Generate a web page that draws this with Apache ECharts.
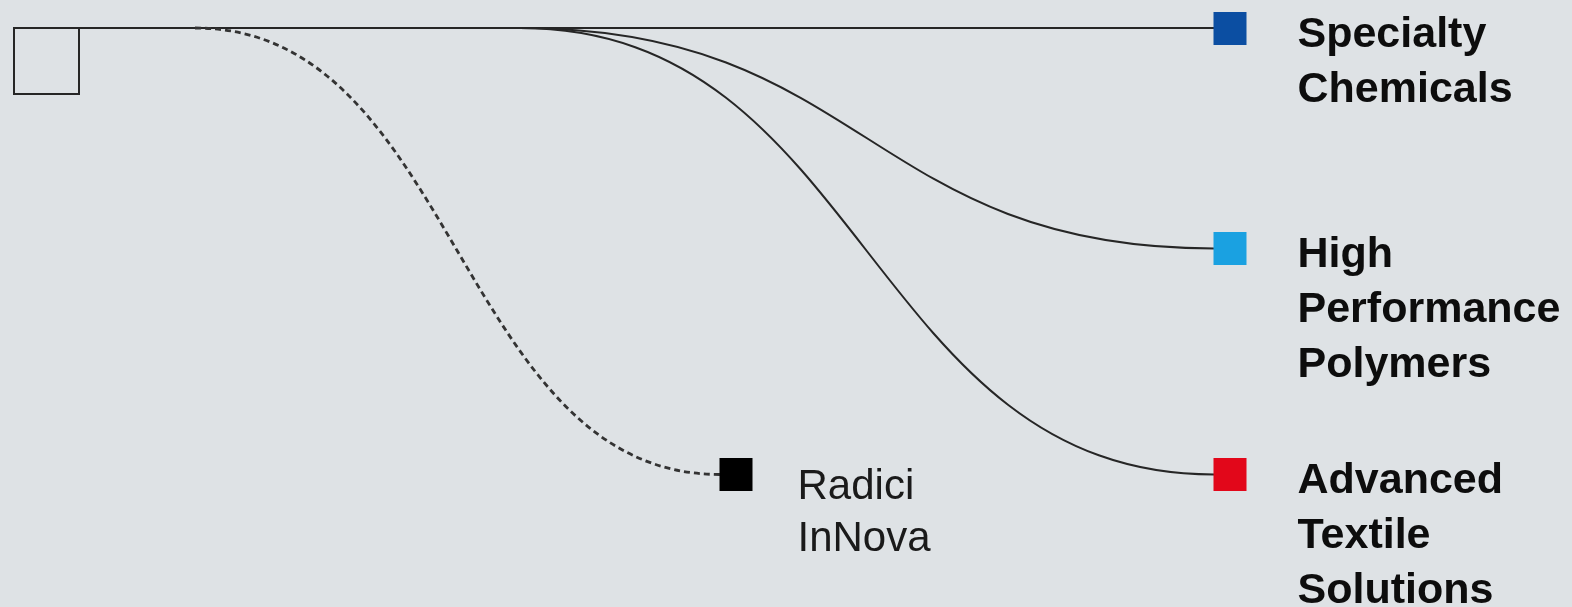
<!DOCTYPE html>
<html>
<head>
<meta charset="utf-8">
<script src="https://cdn.jsdelivr.net/npm/echarts@6/dist/echarts.min.js"></script>
<style>
html,body{margin:0;padding:0;background:#dee2e5;overflow:hidden;}
#chart{width:1572px;height:607px;}
</style>
</head>
<body>
<div id="chart"></div>
<script>
// ---- data (diagram units) ----
const rootName = 'Radici Group';
const rootX = 46.5;
const rootY = 61;

const businessNames = ['Specialty\nChemicals', 'High\nPerformance\nPolymers', 'Advanced\nTextile\nSolutions'];
const businessX = [1230, 1230, 1230];
const businessY = [28.5, 248.5, 474.5];
const businessColors = ['#0b4ea2', '#1aa1e1', '#e2071a'];

const affiliateNames = ['Radici\nInNova'];
const affiliateX = [736];
const affiliateY = [474.5];
const affiliateColors = ['#000000'];

// links: [branchX, branchY, endX, endY, dashed]
const linkFromX = [79, 520, 520, 195];
const linkFromY = [28, 28, 28, 28];
const linkToX = [1214, 1214, 1214, 720];
const linkToY = [28, 248.5, 474.5, 474.5];
const linkDashed = [0, 0, 0, 1];

// ---- chart ----
const chart = echarts.init(document.getElementById('chart'), null, {renderer: 'canvas'});

const linkData = linkFromX.map((x, i) => [x, linkFromY[i], linkToX[i], linkToY[i], linkDashed[i]]);

function renderLink(params, api) {
  const p0 = api.coord([api.value(0), api.value(1)]);
  const p1 = api.coord([api.value(2), api.value(3)]);
  const dashed = api.value(4) === 1;
  const dx = (p1[0] - p0[0]) * 0.5;
  return {
    type: 'bezierCurve',
    shape: {
      x1: p0[0], y1: p0[1], x2: p1[0], y2: p1[1],
      cpx1: p0[0] + dx, cpy1: p0[1],
      cpx2: p1[0] - dx, cpy2: p1[1]
    },
    style: {
      stroke: dashed ? '#333333' : '#262626',
      lineWidth: dashed ? 2.8 : 2,
      fill: null,
      lineDash: dashed ? [6, 4] : null
    }
  };
}

const boldLabel = {
  show: true,
  formatter: p => p.name,
  position: [84, -4],
  align: 'left',
  verticalAlign: 'top',
  fontFamily: '"Liberation Sans", Arial, sans-serif',
  fontWeight: 'bold',
  fontSize: 43,
  lineHeight: 55,
  color: '#0d0d0d',
  opacity: 1
};

const option = {
  backgroundColor: '#dee2e5',
  animation: false,
  grid: {left: 0, right: 0, top: 0, bottom: 0},
  xAxis: {type: 'value', min: 0, max: 1572, show: false},
  yAxis: {type: 'value', min: 0, max: 607, inverse: true, show: false},
  series: [
    {
      type: 'custom',
      renderItem: renderLink,
      data: linkData,
      encode: {x: [0, 2], y: [1, 3]},
      clip: false,
      silent: true,
      z: 1
    },
    {
      type: 'scatter',
      symbol: 'rect',
      symbolSize: [65, 66],
      data: [{name: rootName, value: [rootX, rootY]}],
      itemStyle: {color: 'rgba(0,0,0,0)', borderColor: '#262626', borderWidth: 2, opacity: 1},
      label: {show: false},
      silent: true,
      z: 2
    },
    {
      type: 'scatter',
      symbol: 'rect',
      symbolSize: 33,
      data: businessNames.map((n, i) => ({
        name: n, value: [businessX[i], businessY[i]],
        itemStyle: {color: businessColors[i], opacity: 1}
      })),
      itemStyle: {opacity: 1},
      label: boldLabel,
      silent: true,
      z: 3
    },
    {
      type: 'scatter',
      symbol: 'rect',
      symbolSize: 33,
      data: affiliateNames.map((n, i) => ({
        name: n, value: [affiliateX[i], affiliateY[i]],
        itemStyle: {color: affiliateColors[i], opacity: 1}
      })),
      itemStyle: {opacity: 1},
      label: {
        show: true,
        formatter: p => p.name,
        position: [78, 3],
        align: 'left',
        verticalAlign: 'top',
        fontFamily: '"Liberation Sans", Arial, sans-serif',
        fontWeight: 'normal',
        fontSize: 42,
        lineHeight: 52,
        color: '#1a1a1a',
        opacity: 1
      },
      silent: true,
      z: 3
    }
  ]
};
chart.setOption(option);
</script>
</body>
</html>
